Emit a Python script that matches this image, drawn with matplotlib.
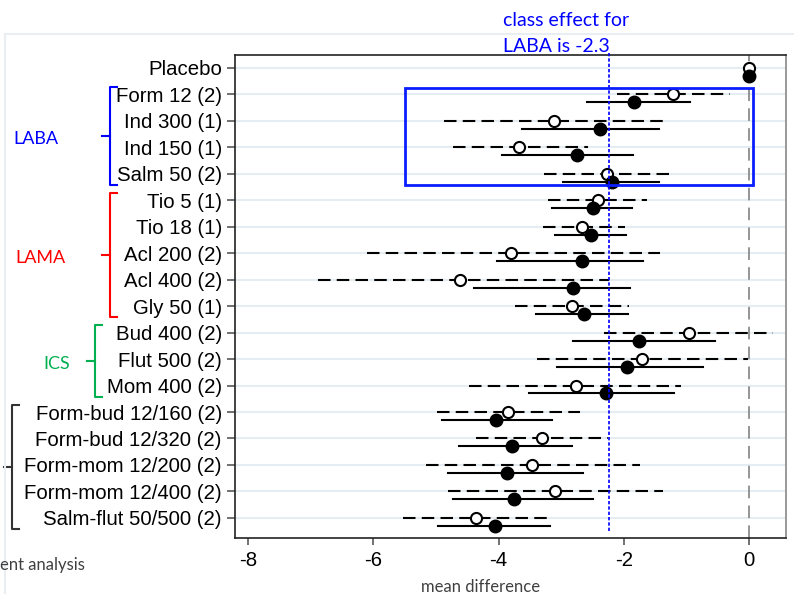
import numpy as np
import matplotlib
matplotlib.use("Agg")
from matplotlib import pyplot as plt
from matplotlib import transforms as mtransforms
from matplotlib.patches import Rectangle
from matplotlib.lines import Line2D

treatments = ["Placebo", "Form 12 (2)", "Ind 300 (1)", "Ind 150 (1)", "Salm 50 (2)",
              "Tio 5 (1)", "Tio 18 (1)", "Acl 200 (2)", "Acl 400 (2)", "Gly 50 (1)",
              "Bud 400 (2)", "Flut 500 (2)", "Mom 400 (2)",
              "Form-bud 12/160 (2)", "Form-bud 12/320 (2)", "Form-mom 12/200 (2)",
              "Form-mom 12/400 (2)", "Salm-flut 50/500 (2)"]

# open circles, dashed intervals
open_est = [0, -1.21, -3.11, -3.67, -2.27, -2.41, -2.67, -3.80, -4.61, -2.83,
            -0.96, -1.71, -2.76, -3.85, -3.31, -3.46, -3.10, -4.36]
open_lo = [0, -2.11, -4.87, -4.73, -3.27, -3.21, -3.29, -6.10, -6.88, -3.74,
           -2.32, -3.39, -4.47, -4.98, -4.36, -5.16, -4.81, -5.53]
open_hi = [0, -0.30, -1.36, -2.57, -1.28, -1.63, -1.98, -1.43, -2.24, -1.92,
           0.39, -0.01, -1.09, -2.70, -2.25, -1.74, -1.37, -3.13]

# filled circles, solid intervals
fill_est = [0, -1.84, -2.38, -2.75, -2.19, -2.49, -2.53, -2.67, -2.81, -2.64,
            -1.76, -1.95, -2.28, -4.04, -3.79, -3.87, -3.75, -4.06]
fill_lo = [0, -2.59, -3.63, -3.95, -2.97, -3.15, -3.10, -4.03, -4.40, -3.40,
           -2.81, -3.07, -3.51, -4.90, -4.63, -4.81, -4.73, -4.97]
fill_hi = [0, -0.94, -1.44, -1.85, -1.44, -1.87, -1.96, -1.70, -1.90, -1.94,
           -0.54, -0.74, -1.20, -3.15, -2.83, -2.65, -2.49, -3.18]

groups = [("LABA", 1, 4, "#0000ff"), ("LAMA", 5, 9, "#ff0000"),
          ("ICS", 10, 12, "#00b050"), ("", 13, 17, "#333333")]
class_effect = -2.24
xticks = [-8, -6, -4, -2, 0]

fig = plt.figure(figsize=(7.94, 5.94), dpi=100)
ax = fig.add_axes([235 / 794, 1 - 538 / 594, 551 / 794, 483 / 594])

y = np.arange(len(treatments))
off = 0.3
grid_col = "#e6edf2"
for yy in y:
    ax.axhline(yy, color=grid_col, lw=1.5, zorder=0)

ax.axvline(0, color="#8c8c8c", lw=1.3, linestyle=(0, (7, 4)), zorder=1)

for i in range(len(treatments)):
    if open_lo[i] != open_hi[i]:
        ax.plot([open_lo[i], open_hi[i]], [y[i], y[i]], color="black", lw=1.5,
                linestyle=(0, (6, 3)), zorder=2)
        ax.plot([fill_lo[i], fill_hi[i]], [y[i] + off, y[i] + off], color="black",
                lw=1.5, zorder=2)
ax.plot(open_est, y, "o", mfc="white", mec="black", mew=1.5, ms=8, zorder=4)
ax.plot(fill_est, y + off, "o", color="black", ms=9, zorder=4)

ax.plot([class_effect, class_effect], [17.5, -0.65], color="#0000ff", lw=1.2,
        linestyle=(0, (2, 1.2)), zorder=5, clip_on=False)
ax.add_patch(Rectangle((-5.49, 0.76), 5.55, 3.66, fill=False, ec="#0a1eff",
                       lw=2, zorder=6, clip_on=False))

ax.set_xlim(-8.21, 0.59)
ax.set_ylim(17.76, -0.49)
ax.set_yticks(y)
ax.set_yticklabels(treatments, fontsize=14.7, family="Liberation Sans")
ax.set_xticks(xticks)
ax.set_xticklabels([str(t) for t in xticks], fontsize=14.7, family="Liberation Sans")
ax.tick_params(axis="y", length=6, width=1.3, color="#666666", pad=3.5)
ax.tick_params(axis="x", length=5, width=1.3, color="#666666", pad=4)
for s in ["left", "bottom", "top"]:
    ax.spines[s].set_color("#222222")
    ax.spines[s].set_linewidth(1.2)
ax.spines["right"].set_color("#888888")
ax.spines["right"].set_linewidth(1.2)

ax.set_xlabel("mean difference", fontsize=12, family="Lato", color="#404040")
ax.xaxis.set_label_coords(0.446, -0.101)
ax.xaxis.label.set_va("center")

# group brackets on the left
tr = mtransforms.blended_transform_factory(fig.transFigure, ax.transData)
bx = {"LABA": 110, "LAMA": 110, "ICS": 95, "": 12}
lx = {"LABA": 36, "LAMA": 40, "ICS": 57, "": 0}
for name, a, b, col in groups:
    x0 = bx[name] / 794
    hook = 7 / 794
    top, bot = a - 0.27, b + 0.42
    mid = (top + bot) / 2
    for xs, ys in [([x0 + hook, x0, x0, x0 + hook], [top, top, bot, bot]),
                   ([x0 - 8 / 794, x0], [mid, mid])]:
        fig.add_artist(Line2D(xs, ys, transform=tr, color=col, lw=1.5))
    if name:
        fig.text(lx[name] / 794, mid + 0.1, name, transform=tr, color=col, fontsize=13,
                 family="Lato", ha="center", va="center")

fig.text(503 / 794, 1 - 21 / 594, "class effect for", color="#0000ff", fontsize=14,
         family="Lato", ha="left", va="center")
fig.text(503 / 794, 1 - 46 / 594, "LABA is -2.3", color="#0000ff", fontsize=14,
         family="Lato", ha="left", va="center")
fig.text(85 / 794, 1 - 565 / 594, "ent analysis", color="#404040", fontsize=12,
         family="Lato", ha="right", va="center")

# slide frame lines
fig.add_artist(Line2D([5 / 794, 1], [1 - 34 / 594, 1 - 34 / 594], transform=fig.transFigure,
                      color="#e9eef2", lw=1.5))
fig.add_artist(Line2D([5 / 794, 5 / 794], [0, 1 - 34 / 594], transform=fig.transFigure,
                      color="#e9eef2", lw=1.5))

fig.savefig("out.png", dpi=100)
